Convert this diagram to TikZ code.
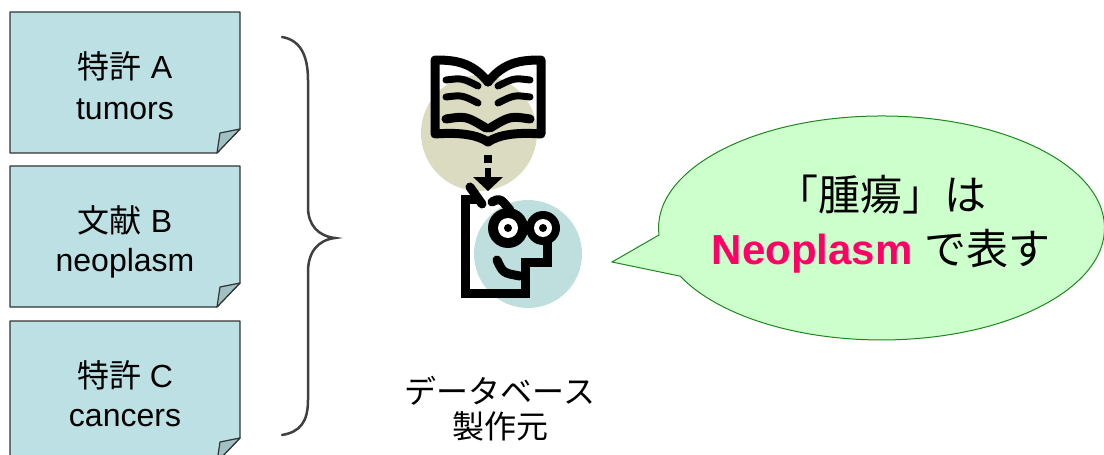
\documentclass[tikz,border=0pt]{standalone}
\usepackage{fontspec}
\setmainfont{Liberation Sans}
\newfontfamily\jp{Noto Sans CJK JP}
\usepackage{tikz}
\usetikzlibrary{positioning}
\usepackage{xcolor}

\definecolor{cardfill}{RGB}{188,224,227}
\definecolor{flapfill}{RGB}{160,192,194}
\definecolor{bookdisc}{RGB}{219,219,194}
\definecolor{facedisc}{RGB}{191,222,222}
\definecolor{bubblefill}{RGB}{204,255,204}
\definecolor{bubbleline}{RGB}{30,135,30}
\definecolor{termred}{RGB}{255,0,102}

\begin{document}
\begin{tikzpicture}[
  x=1pt, y=-1pt,
  card/.style={draw=black!80,fill=cardfill,line width=1.2pt,line join=round},
  flap/.style={draw=black!80,fill=flapfill,line width=1.2pt,line join=round},
  cardtxt/.style={font=\fontsize{32}{32}\selectfont,inner sep=0pt},
  ink/.style={line width=9pt,line cap=round,line join=round},
  brace/.style={draw=black!75,line width=2.5pt,line cap=round}
]
\useasboundingbox (0,0) rectangle (1104,455);
\def\cardw{230}
\def\cardh{141}

% Source documents (3 note cards with a folded corner)
\foreach \n/\y/\head/\term in {1/12/{{\jp 特許} A}/tumors,
                               2/166/{{\jp 文献} B}/neoplasm,
                               3/321/{{\jp 特許} C}/cancers}{
  \draw[card] (10,\y) -- ++(\cardw,0) -- ++(0,\cardh-24) -- ++(-23,24) -- (10,\y+\cardh) -- cycle;
  \draw[flap] (240,\y+\cardh-24) -- (220,\y+\cardh-20) -- (217,\y+\cardh) -- cycle;
  \node[cardtxt] (head\n) at (125,\y+54) {\head};
  \node[cardtxt] (term\n) at (125,\y+97) {\term};
}

% Brace grouping the cards
\draw[brace] (282,37) .. controls (300,40) and (308,55) .. (308,80)
  -- (308,207) .. controls (308,225) and (318,236) .. (335,238)
  .. controls (318,240) and (308,252) .. (308,272)
  -- (308,400) .. controls (308,422) and (300,432) .. (282,435);

% Book with background disc
\fill[bookdisc] (479,133) circle (58);
\draw[ink] (488,82) .. controls (472,62) and (455,60) .. (435,60) -- (435,134)
  .. controls (460,132) and (478,135) .. (488,142);
\draw[ink] (488,82) .. controls (504,62) and (521,60) .. (541,60) -- (541,134)
  .. controls (516,132) and (498,135) .. (488,142);
\foreach \ya/\yb in {80/86,97/103}{
  \draw[ink,line width=7pt] (446,\ya) .. controls (462,\ya-2) .. (478,\yb);
  \draw[ink,line width=7pt] (530,\ya) .. controls (514,\ya-2) .. (498,\yb);
}
\draw[ink] (446,119) .. controls (466,116) .. (486,128);
\draw[ink] (530,119) .. controls (510,116) .. (490,128);

% Down arrow from book to face
\fill (484,155) rectangle (492,163);
\fill (485,168) rectangle (491,178);
\fill (473,177) -- (503,177) -- (488,191) -- cycle;

% Face with background disc
\fill[facedisc] (528,254) circle (54);
\draw[ink] (470,187) -- (482,204);
\draw[ink,line cap=butt,line join=miter] (480,199) -- (465,199) -- (465,293) -- (525,293)
  -- (525,262) -- (547,262) -- (547,240);
\draw[ink] (492,202) .. controls (500,198) .. (510,210);
\fill (508,228) circle (20) (543,228) circle (17);
\fill[white] (508,228) circle (10) (543,228) circle (9);
\fill (508,228) circle (4) (543,228) circle (4);
\draw[ink] (497,260) .. controls (503,273) .. (520,276);

% Label under the icon
\node[font=\jp\fontsize{32}{35}\selectfont,align=center,inner sep=0pt] (maker) at (500,409)
  {データベース\\製作元};

% Speech bubble
\draw[fill=bubblefill,draw=bubbleline,line width=1pt] (612,262) -- (659,235)
  arc[start angle=176.4,end angle=514.5,x radius=223,y radius=112] -- cycle;
\node[font=\fontsize{42}{54}\selectfont,align=center,inner sep=0pt] (says) at (881,224)
  {{\jp 「腫瘍」は}\\{\color{termred}\bfseries Neoplasm} {\jp で表す}};
\end{tikzpicture}
\end{document}
